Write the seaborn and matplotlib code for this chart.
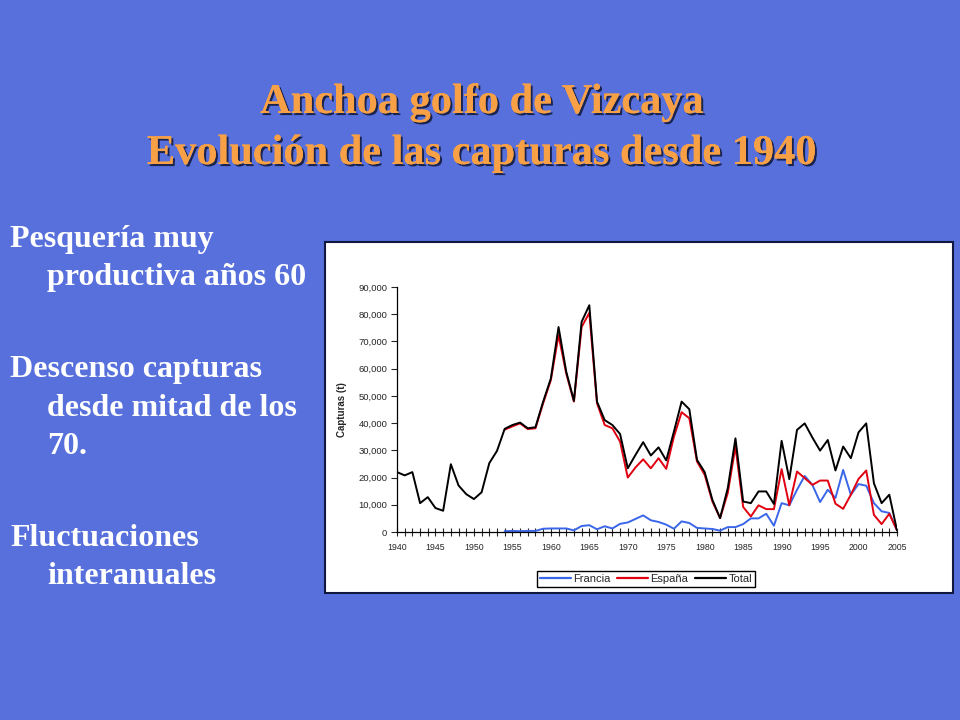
import numpy as np
import pandas as pd
import matplotlib.pyplot as plt
import matplotlib.patheffects as pe
from matplotlib.patches import Rectangle
from matplotlib.ticker import FuncFormatter, MultipleLocator
import seaborn as sns

# DATA (t)
years = list(range(1940, 2006))

total = [22000, 20800, 22000, 10600, 12800, 8800, 7800, 24900, 17100, 13900,
         12100, 14600, 25300, 29800, 37900, 39300, 40200, 38100, 38500, 47900,
         56400, 75300, 58900, 48200, 77200, 83300, 47900, 41100, 39300, 36000,
         23400, 28300, 33000, 28100, 31100, 26300, 36900, 47900, 45100, 26500,
         22000, 11800, 5100, 16100, 34400, 11200, 10600, 14900, 14900, 10300,
         33500, 19400, 37500, 39900, 34700, 29900, 33800, 22600, 31400, 27100,
         36600, 39900, 17900, 10600, 13700, 600]

espana = [np.nan] * 14 + [
    37600, 38800, 39900, 37800, 38100, 47300,
    55800, 72300, 58200, 47900, 75300, 80500, 47300, 39300, 38100, 33200,
    20000, 23700, 26700, 23400, 27100, 23200, 35000, 44000, 41800, 25900,
    21000, 11200, 5100, 14300, 31400, 9200, 5700, 9800, 8400, 8400,
    23100, 9800, 22200, 19800, 17300, 18900, 18900, 10400, 8500, 13700,
    19500, 22600, 6300, 2900, 6700, 600]

francia = [np.nan] * 14 + [
    300, 400, 300, 400, 400, 1200,
    1300, 1300, 1300, 600, 2200, 2500, 1000, 2100, 1300, 3000,
    3500, 4800, 6100, 4300, 3700, 2700, 1200, 3900, 3300, 1500,
    1300, 1100, 500, 1800, 1800, 2900, 5000, 5000, 6700, 2300,
    10600, 9800, 15500, 20600, 17300, 11000, 15500, 12500, 22800, 13700,
    17600, 17000, 10600, 7600, 7000, 600]

series_names = ["Francia", "España", "Total"]
series_colors = {"Francia": "#3A66E8", "España": "#E00010", "Total": "#000000"}

bullets = [
    ["Pesquería muy", "productiva años 60"],
    ["Descenso capturas", "desde mitad de los", "70."],
    ["Fluctuaciones", "interanuales"],
]

df = pd.DataFrame({"Año": years, "Francia": francia, "España": espana, "Total": total})
long_df = df.melt(id_vars="Año", value_vars=series_names,
                  var_name="Serie", value_name="Capturas").dropna()

BG = "#5770DC"
ORANGE = "#F7A045"

sns.set_style("white")
plt.rcParams["font.family"] = ["Liberation Sans", "DejaVu Sans"]

fig = plt.figure(figsize=(9.6, 7.2), dpi=100, facecolor=BG)

# white chart panel (behind the axes)
fig.patches.append(Rectangle((325 / 960, 1 - 593 / 720), 628 / 960, 351 / 720,
                             transform=fig.transFigure, facecolor="white",
                             edgecolor="#101840", linewidth=1.5, zorder=-5))

# title
shadow = [pe.withSimplePatchShadow(offset=(1.5, -1.5), shadow_rgbFace="#151c40", alpha=0.9),
          pe.Normal()]
for txt, y in [("Anchoa golfo de Vizcaya", 103), ("Evolución de las capturas desde 1940", 154)]:
    fig.text(482 / 960, 1 - y / 720, txt, ha="center", va="center", color=ORANGE,
             fontsize=30.5, fontweight="bold", family=["Liberation Serif", "DejaVu Serif"],
             path_effects=shadow)

# left bullet text
line_h = 38
y = 240
for block in bullets:
    for i, line in enumerate(block):
        x = 10 if i == 0 else 47
        fig.text(x / 960, 1 - y / 720, line, ha="left", va="center", color="white",
                 fontsize=23, fontweight="bold", family=["Liberation Serif", "DejaVu Serif"])
        y += line_h
    y += 54

ax = fig.add_axes([397 / 960, 1 - 532 / 720, 500 / 960, 245 / 720], zorder=2)
ax.set_facecolor("none")
sns.lineplot(data=long_df, x="Año", y="Capturas", hue="Serie", hue_order=series_names,
             palette=series_colors, linewidth=1.4, ax=ax, legend=False)

ax.set_xlim(1940, 2005)
ax.set_ylim(0, 90000)
ax.xaxis.set_major_locator(MultipleLocator(5))
ax.xaxis.set_minor_locator(MultipleLocator(1))
ax.yaxis.set_major_locator(MultipleLocator(10000))
ax.yaxis.set_major_formatter(FuncFormatter(lambda v, p: f"{int(v):,}"))
ax.tick_params(axis="x", which="both", direction="inout", length=6, width=0.8,
               labelsize=6.3, pad=5, bottom=True)
ax.tick_params(axis="y", which="major", direction="out", length=4, width=0.8,
               labelsize=6.8, pad=3, left=True)
for s in ["top", "right"]:
    ax.spines[s].set_visible(False)
for s in ["left", "bottom"]:
    ax.spines[s].set_color("black")
    ax.spines[s].set_linewidth(0.9)
ax.set_xlabel("")
ax.set_ylabel("Capturas (t)", fontsize=7, fontweight="bold", labelpad=8)

handles = [plt.Line2D([], [], color=series_colors[n], lw=1.6) for n in series_names]
fig.legend(handles, series_names, loc="center", bbox_to_anchor=(646 / 960, 1 - 579 / 720),
           ncol=3, fontsize=8, frameon=True, fancybox=False, edgecolor="black",
           handlelength=2.8, handletextpad=0.2, columnspacing=0.6, borderpad=0.25,
           framealpha=1)

fig.savefig("out.png", dpi=100, facecolor=BG)
